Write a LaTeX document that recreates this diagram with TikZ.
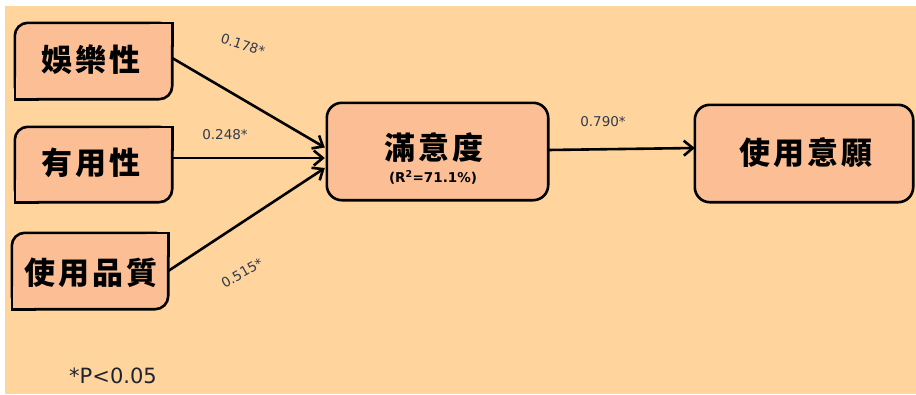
\documentclass[tikz,border=0pt]{standalone}
\usepackage{fontspec}
\newfontfamily\cjk[LetterSpace=9]{Noto Sans CJK TC}
\newfontfamily\lab{DejaVu Sans}
\usetikzlibrary{arrows.meta,calc,backgrounds}
\definecolor{bgc}{HTML}{FFD59D}
\definecolor{boxc}{HTML}{FBBE95}
\definecolor{labc}{RGB}{50,58,78}
\tikzset{
  x=1pt,y=1pt,
  boxnode/.style={inner sep=0pt, draw=none},
  cjktext/.style={font=\cjk\bfseries\fontsize{31}{36}\selectfont, inner sep=0pt},
  coef/.style={font=\lab\fontsize{13.5}{15}\selectfont, text=labc, inner sep=0pt},
  boxline/.style={draw=black, line width=2.6pt, fill=boxc, line join=round},
  edgeline/.style={draw=black, line width=2.6pt, line join=miter},
  link/.style={line width=2.6pt, -{Straight Barb[length=9pt,width=15pt,line width=2.6pt]}}
}
\begin{document}
\begin{tikzpicture}
\useasboundingbox (0,0) rectangle (916,-394);
% nodes (boxes sized by minimum width/height)
\node[boxnode, minimum width=157, minimum height=76] (A) at (93.5,-61) {};
\node[boxnode, minimum width=157, minimum height=75] (B) at (93.5,-164.5) {};
\node[boxnode, minimum width=156, minimum height=76] (C) at (90,-271) {};
\node[boxnode, minimum width=221, minimum height=97] (D) at (437.5,-151.5) {};
\node[boxnode, minimum width=218, minimum height=97] (E) at (804,-153.5) {};
\begin{scope}[on background layer]
  \fill[white] (0,0) rectangle (916,-394);
  \fill[bgc] (5,-6) rectangle (916,-394);
  \foreach \n in {A,B,C}{
    \draw[boxline, rounded corners=13] (\n.north west) rectangle (\n.south east);
    % sharp top-right corner
    \fill[boxc] ($(\n.north east)+(-24,0)$) -- (\n.north east) -- ($(\n.north east)+(0,-24)$) -- cycle;
    \draw[edgeline] ($(\n.north east)+(-24,0)$) -- (\n.north east) -- ($(\n.north east)+(0,-24)$);
    % sharp bottom-left corner
    \fill[boxc] ($(\n.south west)+(24,0)$) -- (\n.south west) -- ($(\n.south west)+(0,24)$) -- cycle;
    \draw[edgeline] ($(\n.south west)+(24,0)$) -- (\n.south west) -- ($(\n.south west)+(0,24)$);
  }
  \draw[boxline, rounded corners=15] (D.north west) rectangle (D.south east);
  \draw[boxline, rounded corners=15] (E.north west) rectangle (E.south east);
\end{scope}
% texts
\node[cjktext] (At) at (91,-60) {娛樂性};
\node[cjktext] (Bt) at (91,-163) {有用性};
\node[cjktext] (Ct) at (91,-273) {使用品質};
\node[cjktext] (Dt) at (434,-147) {滿意度};
\node[font=\lab\bfseries\fontsize{13.5}{15}\selectfont, inner sep=0pt] (Dr) at (433,-177) {(R\textsuperscript{2}=71.1\%)};
\node[cjktext] (Et) at (806,-152.5) {使用意願};
% connectors
\draw[link] ($(A.east)+(0,3)$) -- ($(D.west)+(-2,4)$);
\draw[link] (B.east |- 0,-158) -- ($(D.west)+(-2,-6.5)$);
\draw[link] (C.east) -- ($(D.west)+(-2,-16.5)$);
\draw[link] (D.east |- 0,-150) -- (E.west |- 0,-148);
% coefficient labels
\node[coef, rotate=-18] (l1) at (243,-45) {0.178*};
\node[coef] (l2) at (225,-135) {0.248*};
\node[coef, rotate=30] (l3) at (242,-273) {0.515*};
\node[coef] (l4) at (603,-122) {0.790*};
\node[font=\lab\fontsize{21}{24}\selectfont, text=labc!60!black, inner sep=0pt] (note) at (113,-375.5) {*P<0.05};
\end{tikzpicture}
\end{document}
